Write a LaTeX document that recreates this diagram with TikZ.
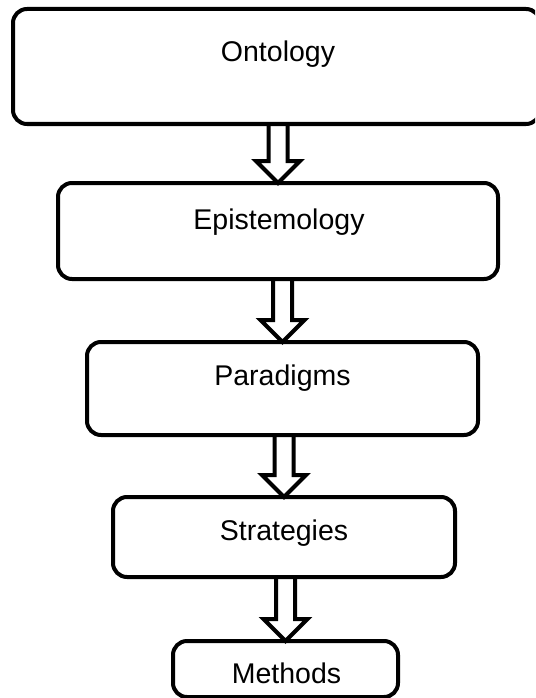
\documentclass[tikz,border=0pt]{standalone}
\usepackage{fontspec}
\setmainfont{Liberation Sans}
\usetikzlibrary{calc}
\tikzset{
  box/.style={draw=black, line width=4pt, rounded corners=14pt, inner sep=0pt, outer sep=0pt},
  lbl/.style={anchor=base, inner sep=0pt, font=\fontsize{28.5}{34}\selectfont},
  hollow/.style={draw=black, line width=4pt, line join=miter},
}
\newcommand{\hollowarrow}[2]{%
  \draw[hollow] let \p1=(#1.south), \p2=(#2.north) in
    (\x2-9.5pt,\y1) -- (\x2-9.5pt,\y2+22pt) -- (\x2-22pt,\y2+22pt) -- (\x2,\y2)
    -- (\x2+22pt,\y2+22pt) -- (\x2+9.5pt,\y2+22pt) -- (\x2+9.5pt,\y1);}
\begin{document}
\begin{tikzpicture}[x=1pt,y=-1pt]
\useasboundingbox (0,0) rectangle (535,698);
\clip (0,0) rectangle (535,698);
% boxes
\node[box, minimum width=527pt, minimum height=115pt] (ont) at (276.5,66.5) {};
\node[box, minimum width=440pt, minimum height=96pt] (epi) at (278,231) {};
\node[box, minimum width=391pt, minimum height=93pt] (par) at (282.5,388.5) {};
\node[box, minimum width=342pt, minimum height=80pt] (str) at (284,537) {};
\node[box, minimum width=225pt, minimum height=56pt] (met) at (285.5,669) {};
% labels
\node[lbl] (ontT) at (278,62) {Ontology};
\node[lbl] (epiT) at (279,229) {Epistemology};
\node[lbl] (parT) at (282.5,385) {Paradigms};
\node[lbl] (strT) at (284,540) {Strategies};
\node[lbl] (metT) at (286.5,683) {Methods};
% arrows
\hollowarrow{ont}{epi}
\hollowarrow{epi}{par}
\hollowarrow{par}{str}
\hollowarrow{str}{met}
\end{tikzpicture}
\end{document}
